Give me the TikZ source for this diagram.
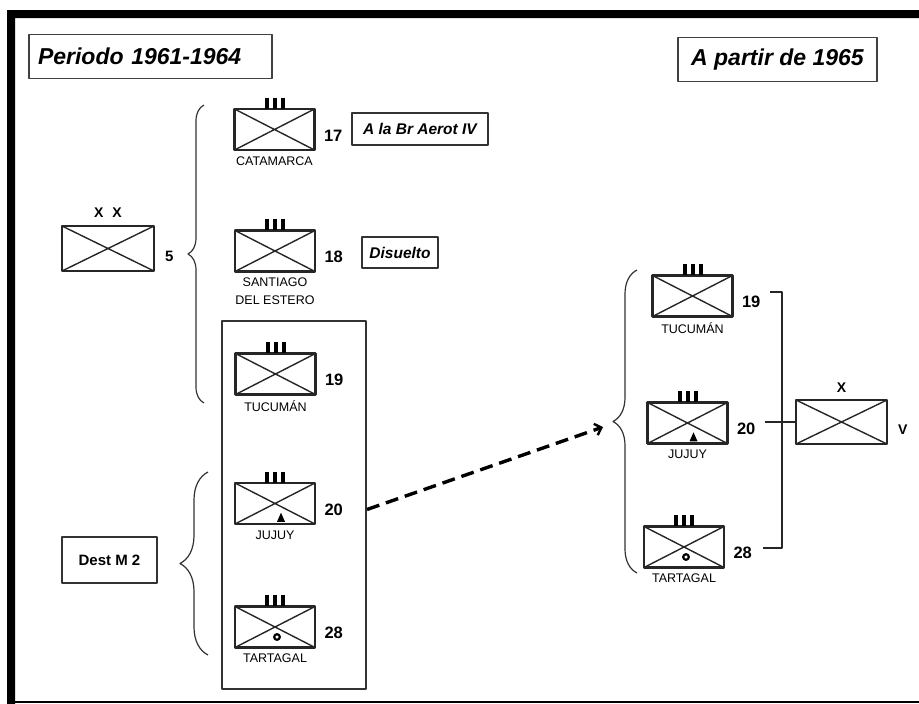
\documentclass[tikz,border=0pt]{standalone}
\usepackage{fontspec}
\setmainfont{Liberation Sans}
\usetikzlibrary{positioning,arrows.meta,decorations.pathreplacing}
\tikzset{
  unit/.style={draw=black!85, line width=2.6pt, minimum width=80pt, minimum height=41pt, inner sep=0pt,
    path picture={\draw[line width=1.4pt] (path picture bounding box.north west)--(path picture bounding box.south east)
      (path picture bounding box.south west)--(path picture bounding box.north east);}},
  num/.style={font=\fontsize{16.5}{16}\selectfont\bfseries, anchor=west, inner sep=0pt},
  place/.style={font=\fontsize{12.5}{18}\selectfont, align=center, anchor=north, inner sep=0pt},
  title/.style={draw=black!75, line width=1.5pt, font=\fontsize{23}{23}\selectfont\bfseries\itshape, minimum height=44pt},
  tag/.style={draw=black!80, line width=1.4pt, font=\fontsize{15.5}{16}\selectfont\bfseries\itshape, inner sep=0pt},
  ech/.style={font=\fontsize{14}{14}\selectfont\bfseries, inner sep=0pt},
  brc/.style={decorate, decoration={brace, amplitude=#1}, line width=1.2pt, draw=black!80},
  flow/.style={line width=3.4pt, dash pattern=on 13pt off 7pt, -{Straight Barb[length=6pt,width=12pt,line width=2.4pt]}}
}
\begin{document}
\begin{tikzpicture}[x=1pt, y=-1pt, line join=round, >=stealth]
\useasboundingbox (0,0) rectangle (919,704);
% frame
\fill (7,10) rectangle (919,18) (7,10) rectangle (15,704);
\draw[line width=2pt] (15,702) -- (919,702);
% titles
\node[title, text width=225pt, inner xsep=9pt, align=left] (per) at (150.5,56.5) {Periodo 1961-1964};
\node[title, minimum width=199pt, inner sep=0pt] (apt) at (777.5,59.5) {A partir de 1965};
% division
\node[unit, line width=2pt, minimum width=92pt, minimum height=45pt] (dv) at (108,248.5) {};
\node[ech, above=7pt of dv] (dv-x) {X\hspace{9pt}X};
\node[ech, font=\fontsize{15}{15}\selectfont\bfseries, right=10pt of dv, yshift=-8pt] (dv-n) {5};
\node[draw=black!80, line width=2pt, minimum width=144pt, minimum height=368pt] (grp) at (294,505) {};
\foreach \u/\p/\n/\s in {cat/{274.5,129.5}/17/CATAMARCA, sgo/{275,251}/18/{SANTIAGO\\DEL ESTERO},
    tuc/{275.5,374}/19/TUCUMÁN, juj/{275,503.5}/20/JUJUY, tar/{275,627}/28/TARTAGAL,
    rtuc/{692.5,296}/19/TUCUMÁN, rjuj/{687.5,423}/20/JUJUY, rtar/{684,547}/28/TARTAGAL}{
  \node[unit] (\u) at (\p) {};
  \node[num] (\u-n) at ([shift={(8pt,-6pt)}]\u.east) {\n};
  \node[place] (\u-s) at ([yshift=-5pt]\u.south) {\s};
  \foreach \d in {-8,0,8} \fill ([xshift=\d pt]\u.north) ++(-2,1) rectangle ++(4,-11);
}
\foreach \t in {juj,rjuj} \fill ([shift={(2pt,3.5pt)}]\t.south) -- ++(8,0) -- ++(-4,-9) -- cycle;
\foreach \t in {tar,rtar} \draw[line width=2.2pt] ([shift={(2pt,-10pt)}]\t.center) circle (2.8pt);
\node[tag, minimum width=136pt, minimum height=32pt] (aer) at (420,129) {A la Br Aerot IV};
\node[tag, minimum width=76pt, minimum height=31pt] (dis) at (400,252.5) {Disuelto};
\node[tag, font=\fontsize{15}{15}\selectfont\bfseries, minimum width=95pt, minimum height=46pt] (dst) at (109.5,560) {Dest M 2};
\draw[brc=16pt] (204,403) -- (204,105);
\draw[brc=28pt] (208,655) -- (208,472);
\draw[brc=24pt] (637,573) -- (637,270);
% brigade
\node[unit, line width=2pt, minimum width=91pt, minimum height=44pt] (br) at (841.5,422) {};
\node[ech, above=6pt of br] (br-x) {X};
\node[ech, right=10pt of br, yshift=-8pt] (br-n) {V};
\coordinate (tip) at (603,427);
\coordinate (bt) at (770,292);
\coordinate (sp) at (782,422);
\coordinate (bb) at (763,548);
\coordinate (bm) at (765,422);
\draw[line width=1.3pt, black!85] (bt) -| (sp) |- (bb) (br.west) -- (bm);
\draw[flow] (grp.east |- juj-n.center) -- (tip);
\end{tikzpicture}
\end{document}
